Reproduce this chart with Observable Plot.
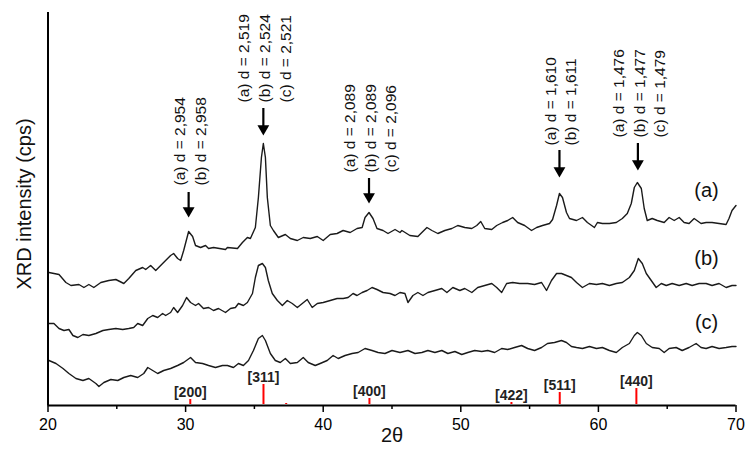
<!DOCTYPE html>
<html><head><meta charset="utf-8">
<script src="https://cdn.jsdelivr.net/npm/d3@7"></script>
<script src="https://cdn.jsdelivr.net/npm/@observablehq/plot@0.6"></script>
<style>
html,body{margin:0;padding:0;background:#fff;}
#chart{width:745px;height:450px;}
</style></head><body><div id="chart"></div>
<script>
// ---- data (2θ in degrees, intensity in arbitrary cps units, stacked) ----
const thetaA = [20.07,20.80,21.30,21.67,22.25,22.61,22.97,23.33,23.84,24.42,
24.93,25.51,25.87,26.38,26.88,27.10,27.46,27.83,28.33,28.91,
29.13,29.42,29.64,29.86,30.22,30.51,30.72,31.09,31.45,31.67,
32.03,32.90,33.04,33.77,34.13,34.49,34.71,35.07,35.29,35.51,
35.65,35.80,35.94,36.16,36.38,36.74,37.25,37.61,38.12,38.55,
39.06,39.57,40.00,40.51,41.01,41.45,41.96,42.46,42.83,43.04,
43.33,43.62,43.91,44.35,44.71,45.22,45.58,45.72,46.30,46.88,
47.17,47.54,47.90,48.33,48.84,49.35,49.78,50.29,50.80,51.16,
51.45,51.74,52.25,52.61,53.04,53.41,53.77,54.13,54.64,55.14,
55.51,55.94,56.45,56.67,56.96,57.17,57.39,57.68,57.90,58.41,
58.84,59.20,59.71,59.93,60.29,60.80,61.30,61.74,62.10,62.39,
62.61,62.83,63.12,63.33,63.55,63.91,64.28,64.78,65.14,65.51,
65.87,66.23,66.59,66.96,67.46,67.83,68.26,68.77,69.28,69.49,
69.71,70.00];
const intA = [133,131,123,120,121,118,121,118,123,125,
126,122,127,135,138,136,140,135,142,150,
152,147,145,155,174,169,160,158,160,157,
158,156,158,157,163,168,167,178,208,248,
262,248,208,180,175,168,171,167,165,168,
167,169,165,171,172,175,173,177,178,188,
193,187,177,175,172,176,173,175,170,169,
173,178,175,172,175,177,180,178,177,180,
184,177,176,180,183,185,188,183,180,175,
178,180,182,186,200,212,208,193,187,185,
188,183,178,183,182,182,183,187,192,202,
218,223,217,197,185,187,185,183,188,185,
188,183,182,187,182,183,183,182,181,187,
195,200];

const thetaB = [20.07,20.43,20.80,21.16,21.52,21.81,22.17,22.54,22.97,23.48,
23.99,24.42,24.93,25.43,25.87,26.23,26.52,26.88,27.25,27.61,
27.97,28.33,28.55,28.91,29.13,29.42,29.78,30.07,30.36,30.72,
30.94,31.30,31.67,32.03,32.39,32.90,33.26,33.62,33.84,34.20,
34.49,34.86,35.07,35.29,35.58,35.80,36.01,36.30,36.67,37.03,
37.39,37.75,38.12,38.48,38.84,39.20,39.57,40.00,40.51,41.01,
41.45,41.81,42.17,42.46,42.83,43.19,43.55,43.91,44.35,44.86,
45.22,45.58,45.94,46.16,46.52,46.88,47.25,47.61,48.12,48.62,
48.99,49.42,49.93,50.29,50.80,51.23,51.74,52.25,52.61,52.97,
53.33,53.77,54.28,54.86,55.36,55.87,56.23,56.59,56.96,57.32,
57.68,58.04,58.41,58.84,59.35,59.86,60.29,60.80,61.30,61.74,
62.25,62.61,62.90,63.19,63.48,63.84,64.20,64.57,64.93,65.36,
65.87,66.38,66.81,67.32,67.83,68.26,68.77,69.28,69.71,70.00];
const intB = [82,82,77,75,76,70,68,71,70,72,
75,76,77,76,77,78,82,80,87,90,
88,92,90,93,98,93,100,108,103,100,
102,97,98,95,97,93,97,98,102,100,
103,112,128,140,142,138,125,112,105,100,
105,102,98,102,106,98,102,103,105,107,
107,108,112,110,113,115,118,116,113,112,
110,113,112,103,110,113,110,113,115,117,
113,118,115,117,113,118,120,122,118,113,
122,123,122,122,121,123,115,125,132,132,
130,128,123,118,122,121,122,120,122,123,
128,135,147,142,132,125,118,122,120,122,
120,122,120,122,122,120,122,118,120,120];

const thetaC = [20.07,20.58,21.09,21.52,22.03,22.54,22.97,23.48,23.70,24.06,
24.57,25.07,25.51,26.01,26.52,26.96,27.25,27.61,27.97,28.41,
28.91,29.42,29.86,30.36,30.72,31.23,31.67,32.17,32.68,33.04,
33.48,33.84,34.20,34.57,34.93,35.29,35.58,35.80,36.16,36.52,
36.88,37.25,37.61,38.12,38.55,38.91,39.42,39.78,40.29,40.72,
41.09,41.59,42.10,42.54,43.04,43.55,43.99,44.49,45.00,45.58,
46.16,46.67,47.17,47.61,48.12,48.62,49.06,49.57,50.07,50.51,
51.01,51.52,51.96,52.46,52.97,53.41,53.91,54.42,54.86,55.36,
55.87,56.30,56.81,57.32,57.68,58.04,58.41,58.84,59.35,59.86,
60.29,60.80,61.30,61.74,62.25,62.61,62.83,63.12,63.48,63.91,
64.42,64.78,65.14,65.65,66.09,66.59,67.10,67.46,67.83,68.26,
68.77,69.28,69.71,70.00];
const intC = [45,42,37,32,27,25,27,22,19,23,
26,25,28,30,28,32,38,35,32,35,
37,40,43,48,43,42,40,38,40,40,
38,42,40,45,55,67,70,65,52,45,
43,47,42,43,48,43,40,42,45,50,
47,50,52,53,57,55,53,52,55,53,
55,52,53,55,53,55,52,54,51,53,
55,54,55,53,57,56,58,60,57,55,
58,62,63,65,63,59,58,57,59,57,
58,55,53,58,62,70,73,70,62,58,
57,53,57,58,55,58,62,58,57,59,
57,58,59,59];

const seriesNames = ["(a)", "(b)", "(c)"];
const seriesLabelTheta = [67.86, 67.86, 67.86];
const seriesLabelInt = [215, 147, 83];

// reference pattern lines (red sticks)
const refTheta = [30.34, 35.66, 37.31, 43.36, 53.68, 57.19, 62.76];
const refHeight = [6, 21, 2, 7, 3, 13, 17];
const refLabel = ["[200]", "[311]", "", "[400]", "[422]", "[511]", "[440]"];

// peak annotations
const peakTheta = [30.22, 35.65, 43.33, 57.17, 62.87];
const peakText = [
  ["(a) d = 2,954", "(b) d = 2,958"],
  ["(a) d = 2,519", "(b) d = 2,524", "(c) d = 2,521"],
  ["(a) d = 2,089", "(b) d = 2,089", "(c) d = 2,096"],
  ["(a) d = 1,610", "(b) d = 1,611"],
  ["(a) d = 1,476", "(b) d = 1,477", "(c) d = 1,479"]
];
const arrowTip = [188, 270, 202, 228, 235];
const arrowTail = [213, 297, 227, 255, 262];
const textBase = [220, 303, 233, 260, 268];

const majorTicks = [20, 30, 40, 50, 60, 70];
const minorTicks = [25, 35, 45, 55, 65];

// ---- build tables ----
const thetas = [thetaA, thetaB, thetaC];
const ints = [intA, intB, intC];
const curveData = seriesNames.flatMap((name, s) =>
  thetas[s].map((t, i) => ({series: name, theta: t, intensity: ints[s][i]})));
const seriesLabels = seriesNames.map((name, i) => ({name, theta: seriesLabelTheta[i], intensity: seriesLabelInt[i]}));
const refData = refTheta.map((t, i) => ({theta: t, h: refHeight[i], label: refLabel[i]}));
const annData = peakTheta.map((t, i) => ({theta: t, tip: arrowTip[i], tail: arrowTail[i], base: textBase[i], label: peakText[i].join("\n")}));

const font = "'Liberation Sans', Arial, Helvetica, sans-serif";

const chart = Plot.plot({
  width: 745,
  height: 450,
  marginLeft: 47.5,
  marginRight: 9.5,
  marginTop: 12,
  marginBottom: 45,
  x: {domain: [20, 70]},
  y: {domain: [0, 393], axis: null},
  style: {fontFamily: font, background: "#fff", color: "#000"},
  marks: [
    Plot.axisX({ticks: minorTicks, tickSize: 4, tickFormat: () => "", label: null, strokeWidth: 1.5}),
    Plot.axisX({ticks: majorTicks, tickSize: 7, tickPadding: 6, fontSize: 16, label: null, strokeWidth: 1.5}),
    Plot.ruleX(refData, {x: "theta", y1: 1, y2: "h", stroke: "#ff0000", strokeWidth: 2}),
    Plot.text(refData.filter(d => d.label), {x: "theta", y: "h", text: "label", lineAnchor: "bottom", dy: -3, fontSize: 14, fontWeight: "bold", fill: "#222"}),
    Plot.line(curveData, {x: "theta", y: "intensity", z: "series", stroke: "#1a1a1a", strokeWidth: 1.4}),
    Plot.text(seriesLabels, {x: "theta", y: "intensity", text: "name", fontSize: 20, fill: "#111"}),
    Plot.ruleX(annData, {x: "theta", y1: d => d.tip + 8, y2: "tail", stroke: "#000", strokeWidth: 2.2}),
    Plot.dot(annData, {x: "theta", y: "tip", symbol: "triangle", rotate: 180, r: 4.4, fill: "#000", stroke: "none", dy: -6.8}),
    Plot.text(annData, {x: "theta", y: "base", text: "label", rotate: -90, textAnchor: "start", lineAnchor: "middle", lineHeight: 1.33, fontSize: 15.5, fill: "#111"}),
    Plot.ruleX([20], {stroke: "#000", strokeWidth: 2}),
    Plot.ruleY([0], {stroke: "#000", strokeWidth: 2}),
    Plot.text(["XRD intensity (cps)"], {frameAnchor: "left", textAnchor: "middle", rotate: -90, dx: -23, dy: -5, fontSize: 20, fill: "#111"}),
    Plot.text(["2θ"], {frameAnchor: "bottom", dy: 36, fontSize: 20, fill: "#111"})
  ]
});
document.getElementById("chart").append(chart);
</script>
</body></html>
